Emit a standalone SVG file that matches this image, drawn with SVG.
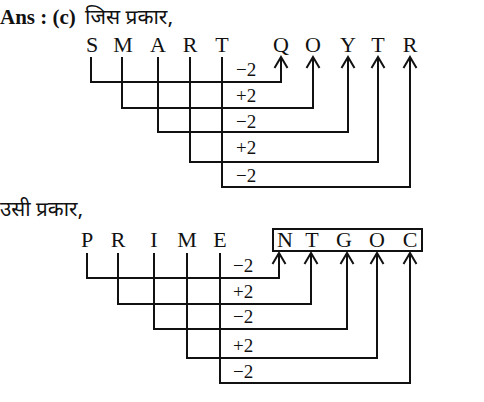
<svg xmlns="http://www.w3.org/2000/svg" width="484" height="402" viewBox="0 0 484 402">
<defs>
<style>
.t{font-family:"Liberation Serif","Times New Roman",serif;font-size:22px;fill:#111;text-anchor:middle}
.l{font-family:"Liberation Serif","Times New Roman",serif;font-size:19px;fill:#111}
.h{font-family:"Noto Sans Devanagari","Noto Sans","DejaVu Sans",sans-serif;font-size:20px;fill:#111}
.b{font-family:"Liberation Serif","Times New Roman",serif;font-size:21px;font-weight:bold;fill:#111}
.c{fill:none;stroke:#111;stroke-width:2;marker-end:url(#ah)}
</style>
<marker id="ah" markerUnits="userSpaceOnUse" viewBox="-14 -9 16 18" markerWidth="16" markerHeight="18" refX="0" refY="0" orient="auto" overflow="visible">
<path d="M-11,-6.5 L0,0 L-11,6.5" fill="none" stroke="#111" stroke-width="2"/>
</marker>
</defs>
<rect width="484" height="402" fill="#fff"/>
<g id="title1"><text x="0" y="24" class="b">Ans : (c)</text><text x="85" y="24" class="h" textLength="88" lengthAdjust="spacingAndGlyphs">जिस प्रकार,</text></g>
<g id="title2"><text x="0" y="216" class="h" textLength="83" lengthAdjust="spacingAndGlyphs">उसी प्रकार,</text></g>
<g id="src1">
<g id="S"><text x="92" y="52" class="t">S</text></g>
<g id="M"><text x="123" y="52" class="t">M</text></g>
<g id="A"><text x="158" y="52" class="t">A</text></g>
<g id="R"><text x="190" y="52" class="t">R</text></g>
<g id="T"><text x="222" y="52" class="t">T</text></g>
</g>
<g id="dst1">
<g id="Q"><text x="281" y="52" class="t">Q</text></g>
<g id="O"><text x="313" y="52" class="t">O</text></g>
<g id="Y"><text x="348" y="52" class="t">Y</text></g>
<g id="T2"><text x="378" y="52" class="t">T</text></g>
<g id="R2"><text x="410" y="52" class="t">R</text></g>
</g>
<g id="src2">
<g id="P"><text x="87" y="247" class="t">P</text></g>
<g id="R3"><text x="118" y="247" class="t">R</text></g>
<g id="I"><text x="154" y="247" class="t">I</text></g>
<g id="M2"><text x="187" y="247" class="t">M</text></g>
<g id="E"><text x="220" y="247" class="t">E</text></g>
</g>
<g id="dst2">
<rect x="273" y="229" width="149" height="22" fill="none" stroke="#111" stroke-width="2"/>
<g id="N"><text x="285" y="247" class="t">N</text></g>
<g id="T3"><text x="312" y="247" class="t">T</text></g>
<g id="G"><text x="344" y="247" class="t">G</text></g>
<g id="O2"><text x="377" y="247" class="t">O</text></g>
<g id="C"><text x="410" y="247" class="t">C</text></g>
</g>
<g id="connectors">
<path class="c" d="M91,57 V82 H281 V57"/>
<path class="c" d="M122,57 V108 H313 V57"/>
<path class="c" d="M158,57 V132 H348 V57"/>
<path class="c" d="M190,57 V162 H378 V57"/>
<path class="c" d="M222,57 V187 H410 V57"/>
<path class="c" d="M87,253 V278 H279 V253"/>
<path class="c" d="M118,253 V304 H311 V253"/>
<path class="c" d="M154,253 V329 H347 V253"/>
<path class="c" d="M187,253 V358 H377 V253"/>
<path class="c" d="M220,253 V383 H410 V253"/>
<g id="labels">
<text x="236" y="76" class="l">−2</text>
<text x="236" y="102" class="l">+2</text>
<text x="236" y="128" class="l">−2</text>
<text x="236" y="154" class="l">+2</text>
<text x="236" y="182" class="l">−2</text>
<text x="233" y="272" class="l">−2</text>
<text x="233" y="298" class="l">+2</text>
<text x="233" y="323" class="l">−2</text>
<text x="233" y="352" class="l">+2</text>
<text x="233" y="378" class="l">−2</text>
</g>
</g>
</svg>
